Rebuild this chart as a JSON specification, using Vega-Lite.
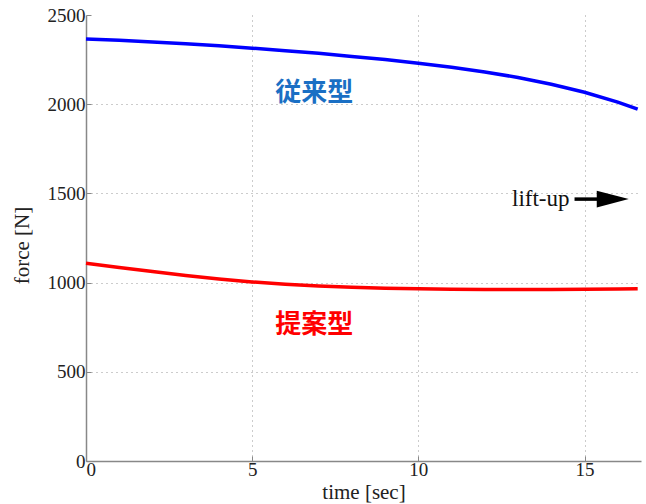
{
  "$schema": "https://vega.github.io/schema/vega-lite/v6.json",
  "width": 555,
  "height": 446,
  "autosize": "none",
  "padding": {"left": 86, "top": 15, "right": 5, "bottom": 43},
  "background": "white",
  "config": {
    "view": {"stroke": null},
    "axis": {
      "labelFont": "Liberation Serif",
      "titleFont": "Liberation Serif",
      "labelFontSize": 19,
      "titleFontSize": 21,
      "labelColor": "#222",
      "titleColor": "#222",
      "titleFontWeight": "normal",
      "domainColor": "#888",
      "domainWidth": 1.5,
      "tickColor": "#888",
      "tickSize": -5,
      "gridColor": "#999",
      "gridDash": [1, 4],
      "gridWidth": 1
    }
  },
  "resolve": {"scale": {"color": "independent"}},
  "datasets": {
    "curves": [
      {"t": 0, "force": 2366, "series": "従来型"},
      {"t": 1, "force": 2358, "series": "従来型"},
      {"t": 2, "force": 2349, "series": "従来型"},
      {"t": 3, "force": 2339, "series": "従来型"},
      {"t": 4, "force": 2327, "series": "従来型"},
      {"t": 5, "force": 2314, "series": "従来型"},
      {"t": 6, "force": 2300, "series": "従来型"},
      {"t": 7, "force": 2285, "series": "従来型"},
      {"t": 8, "force": 2268, "series": "従来型"},
      {"t": 9, "force": 2250, "series": "従来型"},
      {"t": 10, "force": 2230, "series": "従来型"},
      {"t": 11, "force": 2207, "series": "従来型"},
      {"t": 12, "force": 2181, "series": "従来型"},
      {"t": 13, "force": 2150, "series": "従来型"},
      {"t": 14, "force": 2112, "series": "従来型"},
      {"t": 15, "force": 2067, "series": "従来型"},
      {"t": 16, "force": 2012, "series": "従来型"},
      {"t": 16.6, "force": 1972, "series": "従来型"},
      {"t": 0, "force": 1108, "series": "提案型"},
      {"t": 1, "force": 1085, "series": "提案型"},
      {"t": 2, "force": 1062, "series": "提案型"},
      {"t": 3, "force": 1040, "series": "提案型"},
      {"t": 4, "force": 1020, "series": "提案型"},
      {"t": 5, "force": 1004, "series": "提案型"},
      {"t": 6, "force": 991, "series": "提案型"},
      {"t": 7, "force": 981, "series": "提案型"},
      {"t": 8, "force": 974, "series": "提案型"},
      {"t": 9, "force": 969, "series": "提案型"},
      {"t": 10, "force": 965, "series": "提案型"},
      {"t": 11, "force": 963, "series": "提案型"},
      {"t": 12, "force": 962, "series": "提案型"},
      {"t": 13, "force": 962, "series": "提案型"},
      {"t": 14, "force": 962, "series": "提案型"},
      {"t": 15, "force": 963, "series": "提案型"},
      {"t": 16, "force": 964, "series": "提案型"},
      {"t": 16.6, "force": 965, "series": "提案型"}
    ],
    "labels": [
      {"t": 6.87, "force": 2060, "series": "従来型"},
      {"t": 6.87, "force": 760, "series": "提案型"}
    ],
    "arrow": [
      {"t": 14.7, "t2": 15.5, "force": 1468, "note": "lift-up", "tip": 15.85}
    ]
  },
  "layer": [
    {
      "data": {"name": "curves"},
      "mark": {"type": "line", "strokeWidth": 3.5},
      "encoding": {
        "x": {
          "field": "t", "type": "quantitative",
          "scale": {"domain": [0, 16.7], "nice": false, "zero": false},
          "axis": {
            "title": "time [sec]", "values": [0, 5, 10, 15], "grid": true, "format": "d",
            "labelFont": "Liberation Serif", "labelFontSize": 19,
            "gridOpacity": {"condition": {"test": "datum.value == 0", "value": 0}, "value": 1},
            "labelPadding": 4, "titleY": 31, "titleBaseline": "middle"
          }
        },
        "y": {
          "field": "force", "type": "quantitative",
          "scale": {"domain": [0, 2500], "nice": false},
          "axis": {
            "title": "force [N]", "values": [0, 500, 1000, 1500, 2000, 2500], "grid": true, "format": "d",
            "labelFont": "Liberation Serif", "labelFontSize": 19,
            "gridOpacity": {"condition": {"test": "datum.value == 0 || datum.value == 2500", "value": 0}, "value": 1},
            "labelPadding": 6, "titleX": -64, "titleY": 230, "titleAngle": -90,
            "titleAlign": "center", "titleBaseline": "middle"
          }
        },
        "color": {
          "field": "series", "type": "nominal",
          "scale": {"domain": ["従来型", "提案型"], "range": ["#0000ff", "#ff0000"]},
          "legend": null
        },
        "detail": {"field": "series"}
      }
    },
    {
      "data": {"name": "labels"},
      "mark": {"type": "text", "font": "Noto Sans CJK JP", "fontWeight": "bold", "fontSize": 26, "align": "center", "baseline": "middle"},
      "encoding": {
        "x": {"field": "t", "type": "quantitative"},
        "y": {"field": "force", "type": "quantitative"},
        "text": {"field": "series"},
        "color": {
          "field": "series", "type": "nominal",
          "scale": {"domain": ["従来型", "提案型"], "range": ["#1a6fc4", "#ff0000"]},
          "legend": null
        }
      }
    },
    {
      "data": {"name": "arrow"},
      "mark": {"type": "text", "font": "Liberation Serif", "fontSize": 23, "align": "right", "baseline": "middle", "dx": -5, "color": "#111"},
      "encoding": {
        "x": {"field": "t", "type": "quantitative"},
        "y": {"field": "force", "type": "quantitative"},
        "text": {"field": "note"}
      }
    },
    {
      "data": {"name": "arrow"},
      "mark": {"type": "rule", "strokeWidth": 3.5, "color": "black"},
      "encoding": {
        "x": {"field": "t", "type": "quantitative"},
        "x2": {"field": "t2"},
        "y": {"field": "force", "type": "quantitative"}
      }
    },
    {
      "data": {"name": "arrow"},
      "mark": {"type": "point", "shape": "M -1 -0.53 L 1 0 L -1 0.53 Z", "filled": true, "size": 1024, "color": "black", "opacity": 1, "strokeWidth": 0},
      "encoding": {
        "x": {"field": "tip", "type": "quantitative"},
        "y": {"field": "force", "type": "quantitative"}
      }
    }
  ]
}
